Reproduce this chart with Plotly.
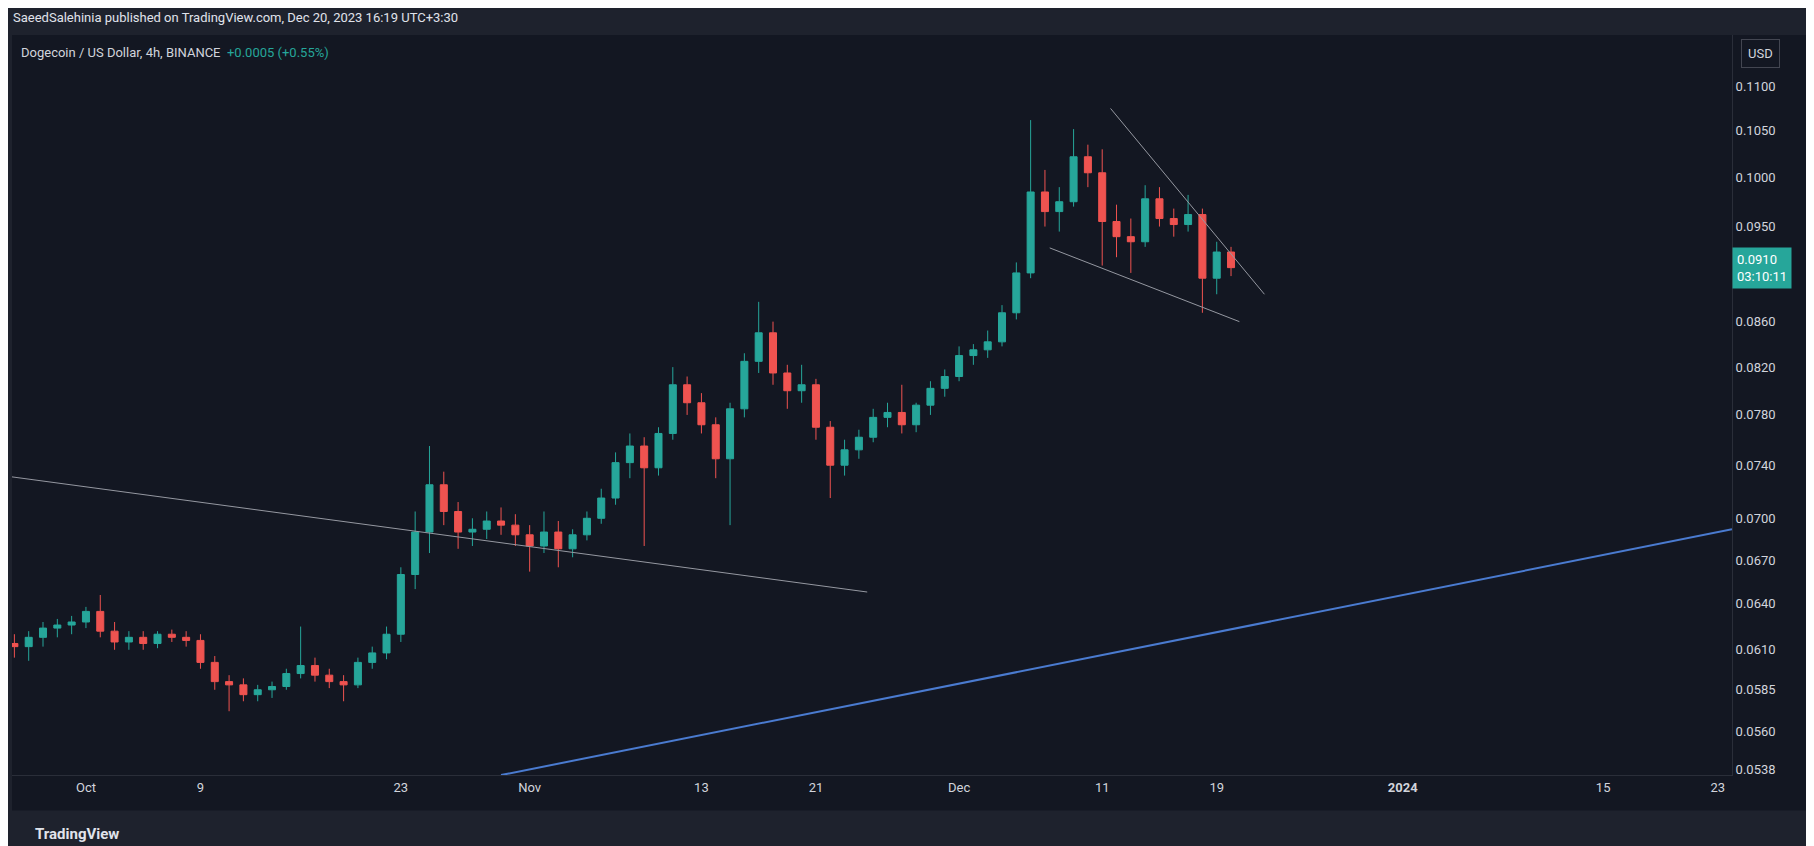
import math
import pandas as pd
import plotly.graph_objects as go

# daily OHLC (Sep 26 - Dec 20, 2023)
dates = pd.date_range("2023-09-26", "2023-12-20", freq="D")
opens = [.0614, .0612, .0618, .0624, .0626,
         .0628, .0635, .0622, .0615, .0618, .0614, .0620, .0618, .0616, .0602,
         .0590, .0588, .0582, .0585, .0587, .0595, .0600, .0594, .0590, .0588,
         .0602, .0608, .0620, .0660, .0690, .0725, .0705, .0690, .0692, .0698, .0695,
         .0688, .0680, .0690, .0678, .0688, .0700, .0715, .0742, .0755, .0738,
         .0765, .0805, .0790, .0772, .0745, .0785, .0825, .0850, .0815, .0800,
         .0805, .0770, .0740, .0752, .0762, .0778, .0782, .0772, .0788, .0802,
         .0812, .0830, .0835, .0842, .0868, .0905, .0985, .0965, .0975, .1022,
         .1005, .0955, .0940, .0935, .0978, .0958, .0952, .0962, .0900, .0925]
highs = [.0620, .0622, .0628, .0630, .0632,
         .0638, .0646, .0628, .0622, .0622, .0622, .0623, .0622, .0620, .0606,
         .0594, .0592, .0588, .0590, .0598, .0625, .0605, .0598, .0594, .0605,
         .0612, .0625, .0665, .0705, .0755, .0735, .0712, .0700, .0705, .0708, .0703,
         .0695, .0705, .0698, .0692, .0705, .0722, .0750, .0765, .0762, .0770,
         .0820, .0812, .0798, .0778, .0790, .0832, .0878, .0860, .0822, .0822,
         .0810, .0775, .0760, .0768, .0785, .0790, .0805, .0790, .0808, .0818,
         .0838, .0840, .0852, .0875, .0915, .1062, .1008, .0990, .1052, .1035,
         .1030, .0972, .0958, .0992, .0990, .0968, .0982, .0968, .0935, .0930]
lows = [.0605, .0603, .0612, .0618, .0620,
        .0624, .0618, .0610, .0610, .0610, .0611, .0615, .0612, .0598, .0585,
        .0572, .0578, .0578, .0580, .0585, .0592, .0590, .0586, .0578, .0586,
        .0598, .0604, .0615, .0650, .0675, .0695, .0678, .0680, .0685, .0688, .0680,
        .0662, .0675, .0665, .0672, .0684, .0696, .0710, .0730, .0680, .0732,
        .0760, .0780, .0765, .0730, .0695, .0778, .0815, .0805, .0785, .0790,
        .0760, .0715, .0732, .0745, .0758, .0770, .0765, .0766, .0780, .0795,
        .0808, .0822, .0828, .0838, .0862, .0900, .0950, .0945, .0970, .0990,
        .0912, .0920, .0905, .0930, .0950, .0940, .0945, .0868, .0885, .0902]
closes = [.0612, .0618, .0624, .0626, .0628,
          .0635, .0622, .0615, .0618, .0614, .0620, .0618, .0616, .0602, .0590,
          .0588, .0582, .0585, .0587, .0595, .0600, .0594, .0590, .0588, .0602,
          .0608, .0620, .0660, .0690, .0725, .0705, .0690, .0692, .0698, .0695, .0688,
          .0680, .0690, .0678, .0688, .0700, .0715, .0742, .0755, .0738, .0765,
          .0805, .0790, .0772, .0745, .0785, .0825, .0850, .0815, .0800, .0805,
          .0770, .0740, .0752, .0762, .0778, .0782, .0772, .0788, .0802, .0812,
          .0830, .0835, .0842, .0868, .0905, .0985, .0965, .0975, .1022, .1005,
          .0955, .0940, .0935, .0978, .0958, .0952, .0962, .0900, .0925, .0910]
last_price = 0.0910

# drawn trend lines (start/end date, price)
grey_line = (["2023-09-25 20:00", "2023-11-24 14:00"], [0.0731, 0.0648])
blue_line = (["2023-10-30 00:00", "2024-01-24 00:00"], [0.0535, 0.0692])
wedge_top = (["2023-12-11 14:00", "2023-12-22 08:00"], [0.1075, 0.0885])
wedge_bottom = (["2023-12-07 08:00", "2023-12-20 14:00"], [0.0929, 0.0860])

y_ticks = [0.0538, 0.0560, 0.0585, 0.0610, 0.0640, 0.0670, 0.0700, 0.0740,
           0.0780, 0.0820, 0.0860, 0.0950, 0.1000, 0.1050, 0.1100]
x_tickvals = ["2023-10-01", "2023-10-09", "2023-10-23", "2023-11-01", "2023-11-13",
              "2023-11-21", "2023-12-01", "2023-12-11", "2023-12-19", "2024-01-01",
              "2024-01-15", "2024-01-23"]
x_ticktext = ["Oct", "9", "23", "Nov", "13", "21", "Dec", "11", "19", "<b>2024</b>", "15", "23"]

BG = "#131722"
FRAME = "#1e222d"
TXT = "#d1d4dc"

fig = go.Figure()
fig.add_trace(go.Candlestick(
    x=dates, open=opens, high=highs, low=lows, close=closes,
    increasing=dict(line=dict(color="#26a69a", width=1), fillcolor="#26a69a"),
    decreasing=dict(line=dict(color="#ef5350", width=1), fillcolor="#ef5350"),
    whiskerwidth=0, showlegend=False,
))
for (xs, ys), col, w in [(grey_line, "#9598a1", 1), (blue_line, "#4a7bd0", 2),
                         (wedge_top, "#9598a1", 1), (wedge_bottom, "#9598a1", 1)]:
    fig.add_trace(go.Scatter(x=xs, y=ys, mode="lines", line=dict(color=col, width=w),
                             showlegend=False, hoverinfo="skip"))

fig.update_layout(
    width=1806, height=838,
    paper_bgcolor=FRAME, plot_bgcolor=BG,
    margin=dict(l=4, r=82, t=27, b=71),
    font=dict(family="Roboto, sans-serif", color=TXT, size=13),
    xaxis=dict(range=["2023-09-25 20:00", "2024-01-24 00:00"], rangeslider=dict(visible=False),
               tickvals=x_tickvals, ticktext=x_ticktext, showgrid=False, zeroline=False,
               ticks="", tickfont=dict(size=13, color=TXT), showline=True, linecolor="#2a2e39"),
    yaxis=dict(type="log", side="right", range=[-1.2716, -0.9352], tickvals=y_ticks,
               ticktext=[f"{v:.4f}" for v in y_ticks], showgrid=False, zeroline=False,
               ticks="", tickfont=dict(size=13, color=TXT), showline=True, linecolor="#2a2e39"),
    shapes=[dict(type="rect", xref="paper", yref="paper", x0=1.0, x1=1.048, y0=-0.048, y1=1.0,
                 fillcolor=BG, line=dict(width=0), layer="below"),
            dict(type="rect", xref="paper", yref="paper", x0=0, x1=1.0, y0=-0.048, y1=0,
                 fillcolor=BG, line=dict(width=0), layer="below")],
    annotations=[
        dict(text="SaeedSalehinia published on TradingView.com, Dec 20, 2023 16:19 UTC+3:30",
             xref="paper", yref="paper", x=-0.0005, y=1.024, xanchor="left", yanchor="middle",
             showarrow=False, font=dict(size=13, color="#e0e3eb")),
        dict(text="Dogecoin / US Dollar, 4h, BINANCE  <span style='color:#26a69a'>+0.0005 (+0.55%)</span>",
             xref="paper", yref="paper", x=0.004, y=0.977, xanchor="left", yanchor="middle",
             showarrow=False, font=dict(size=13, color=TXT)),
        dict(text="USD", xref="paper", yref="paper", x=1.005, y=0.975, xanchor="left",
             yanchor="middle", showarrow=False, font=dict(size=13, color=TXT),
             bordercolor="#434651", borderwidth=1, borderpad=6, bgcolor=BG),
        dict(text="0.0910<br>03:10:11", xref="paper", y=math.log10(last_price), yref="y", x=1.0,
             xanchor="left", yanchor="middle", showarrow=False, align="left",
             font=dict(size=13, color="white"), bgcolor="#26a69a", borderpad=4),
        dict(text="<b>TradingView</b>", xref="paper", yref="paper", x=0.012, y=-0.08,
             xanchor="left", yanchor="middle", showarrow=False, font=dict(size=15, color="#e0e3eb")),
    ],
)

fig.write_html("out.html")
